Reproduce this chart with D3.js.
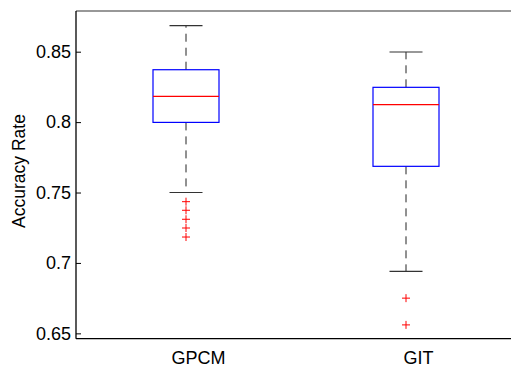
<!DOCTYPE html>
<html>
<head>
<meta charset="utf-8">
<script src="https://cdn.jsdelivr.net/npm/d3@7"></script>
<style>
  body { margin: 0; background: #fff; }
  svg { display: block; font-family: "Liberation Sans", Arial, sans-serif; }
</style>
</head>
<body>
<div id="chart"></div>
<script>
// data
const categories = ["GPCM", "GIT"];
const whiskerHigh = [0.8685, 0.8498];
const q3 = [0.8372, 0.8247];
const medians = [0.8183, 0.8124];
const q1 = [0.7998, 0.7686];
const whiskerLow = [0.7500, 0.6940];
const outliers = [
  [0.7435, 0.7374, 0.7310, 0.7248, 0.7184],
  [0.6750, 0.6560]
];
const yTicks = [0.65, 0.7, 0.75, 0.8, 0.85];

const width = 511, height = 367;
const plot = {left: 76, right: 516, top: 11, bottom: 338.7};

const svg = d3.select("#chart").append("svg")
  .attr("width", width).attr("height", height)
  .attr("viewBox", [0, 0, width, height]);

const x = d3.scaleLinear().domain([0.5, 2.5]).range([plot.left, plot.right]);
const y = d3.scaleLinear().domain([0.6462, 0.8789]).range([plot.bottom, plot.top]);

const boxHalf = 0.15, capHalf = 0.075;

const data = categories.map((c, i) => ({
  name: c, pos: i + 1,
  lo: whiskerLow[i], q1: q1[i], med: medians[i], q3: q3[i], hi: whiskerHigh[i],
  out: outliers[i]
}));

// frame
svg.append("line").attr("x1", plot.left).attr("x2", plot.right)
  .attr("y1", plot.top).attr("y2", plot.top).attr("stroke", "#333").attr("stroke-width", 1.2);
svg.append("line").attr("x1", plot.right).attr("x2", plot.right)
  .attr("y1", plot.top).attr("y2", plot.bottom).attr("stroke", "#000");

// y axis, ticks inward
const yAxis = svg.append("g").attr("transform", `translate(${plot.left},0)`)
  .call(d3.axisRight(y).tickValues(yTicks).tickSize(5).tickFormat(d3.format("")));
yAxis.select(".domain").remove();
yAxis.selectAll(".tick line").attr("stroke", "#000");
yAxis.selectAll(".tick text")
  .attr("x", -5).attr("text-anchor", "end")
  .attr("font-size", 18).attr("fill", "#000");
svg.append("line").attr("x1", plot.left).attr("x2", plot.left)
  .attr("y1", plot.top).attr("y2", plot.bottom).attr("stroke", "#000").attr("stroke-width", 1.3);
svg.append("line").attr("x1", plot.left).attr("x2", plot.right)
  .attr("y1", plot.bottom).attr("y2", plot.bottom).attr("stroke", "#000").attr("stroke-width", 1.3);

// category labels
svg.selectAll("text.cat").data(data).join("text").attr("class", "cat")
  .attr("x", d => x(d.pos) + 12.5).attr("y", 364)
  .attr("text-anchor", "middle").attr("font-size", 18).attr("fill", "#000")
  .text(d => d.name);

// y label
svg.append("text")
  .attr("transform", "translate(25,171) rotate(-90)")
  .attr("text-anchor", "middle").attr("font-size", 17.5).attr("fill", "#000")
  .text("Accuracy Rate");

const g = svg.selectAll("g.box").data(data).join("g").attr("class", "box");

// whiskers
g.append("line").attr("x1", d => x(d.pos)).attr("x2", d => x(d.pos))
  .attr("y1", d => y(d.q3)).attr("y2", d => y(d.hi))
  .attr("stroke", "#222").attr("stroke-dasharray", "8,6");
g.append("line").attr("x1", d => x(d.pos)).attr("x2", d => x(d.pos))
  .attr("y1", d => y(d.q1)).attr("y2", d => y(d.lo))
  .attr("stroke", "#222").attr("stroke-dasharray", "8,6");

// caps
["hi", "lo"].forEach(k => {
  g.append("line")
    .attr("x1", d => x(d.pos - capHalf)).attr("x2", d => x(d.pos + capHalf))
    .attr("y1", d => y(d[k])).attr("y2", d => y(d[k]))
    .attr("stroke", "#333").attr("stroke-width", 1.2);
});

// box
g.append("rect")
  .attr("x", d => x(d.pos - boxHalf)).attr("width", d => x(d.pos + boxHalf) - x(d.pos - boxHalf))
  .attr("y", d => y(d.q3)).attr("height", d => y(d.q1) - y(d.q3))
  .attr("fill", "none").attr("stroke", "#0000ff").attr("stroke-width", 1.2);

// median
g.append("line")
  .attr("x1", d => x(d.pos - boxHalf)).attr("x2", d => x(d.pos + boxHalf))
  .attr("y1", d => y(d.med)).attr("y2", d => y(d.med))
  .attr("stroke", "#ff0000").attr("stroke-width", 1.2);

// outliers
const pts = data.flatMap(d => d.out.map(v => ({pos: d.pos, v})));
svg.selectAll("path.out").data(pts).join("path").attr("class", "out")
  .attr("d", d => {
    const cx = x(d.pos), cy = y(d.v), r = 4;
    return `M${cx - r},${cy}H${cx + r}M${cx},${cy - r}V${cy + r}`;
  })
  .attr("stroke", "#ff0000").attr("stroke-width", 1).attr("fill", "none");
</script>
</body>
</html>
